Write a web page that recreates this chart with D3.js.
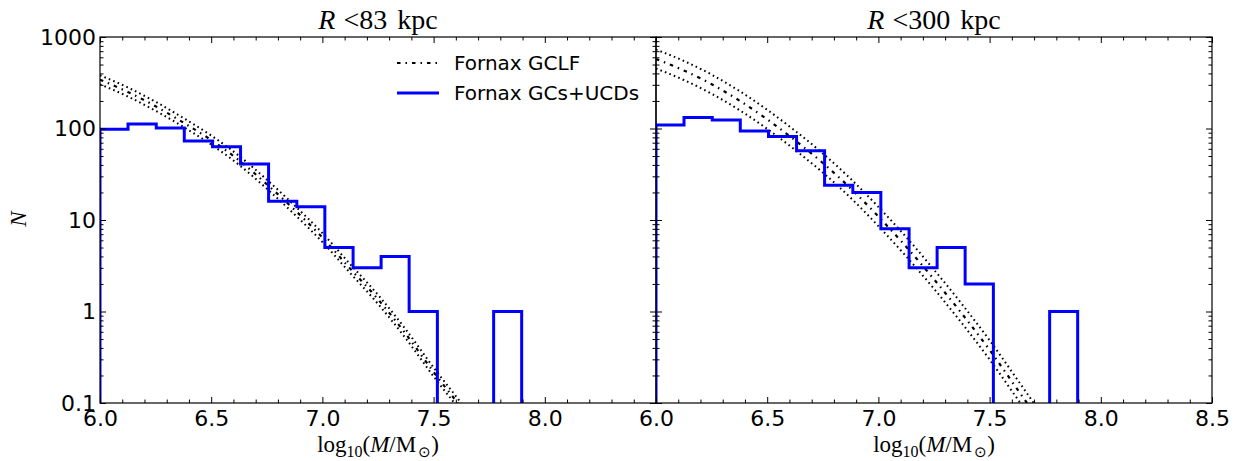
<!DOCTYPE html>
<html>
<head>
<meta charset="utf-8">
<script src="https://cdn.jsdelivr.net/npm/d3@7"></script>
<style>
  html, body { margin: 0; padding: 0; background: #fff; }
  svg { display: block; }
  .tick text { font-family: "DejaVu Sans", sans-serif; font-size: 22px; fill: #000; }
  .tick line { stroke: #000; stroke-width: 1; }
</style>
</head>
<body>
<div id="chart"></div>
<script>
// ---------------- data ----------------
const binEdges = [6.000, 6.126, 6.253, 6.379, 6.506, 6.632, 6.758, 6.885, 7.011, 7.138, 7.264, 7.390, 7.517, 7.643, 7.770, 7.896];
const countsR83  = [98, 112, 101, 73, 63, 41, 16, 14, 5, 3, 4, 1, 0, 0, 1];
const countsR300 = [109, 132, 124, 94, 82, 57, 24, 20, 8, 3, 5, 2, 0, 0, 1];

const gclfX = [6.0, 6.125, 6.25, 6.375, 6.5, 6.625, 6.75, 6.875, 7.0, 7.125, 7.25, 7.375, 7.5, 7.625, 7.75];
const gclfR83Mid   = [341, 251, 175, 116, 74.8, 44.9, 24.6, 12.9, 6.43, 2.94, 1.36, 0.568, 0.218, 0.088, 0.033];
const gclfR83Hi    = [382, 281, 196, 130, 83.8, 50.3, 27.6, 14.4, 7.2, 3.29, 1.52, 0.636, 0.244, 0.099, 0.037];
const gclfR83Lo    = [304, 224, 156, 104, 66.8, 40.1, 22.0, 11.5, 5.74, 2.63, 1.21, 0.507, 0.195, 0.079, 0.029];
const gclfR300Mid  = [575, 431, 305, 202, 126, 74.3, 42.0, 22.2, 10.9, 5.1, 2.25, 0.95, 0.38, 0.141, 0.052];
const gclfR300Hi   = [730, 548, 388, 257, 160, 94.5, 53.4, 28.2, 13.9, 6.5, 2.86, 1.21, 0.484, 0.180, 0.066];
const gclfR300Lo   = [452, 339, 240, 159, 99.0, 58.4, 33.0, 17.5, 8.57, 4.0, 1.77, 0.747, 0.299, 0.111, 0.041];

const panelTitles = [["R", "<83", "kpc"], ["R", "<300", "kpc"]];
const xMajorTicks = [6.0, 6.5, 7.0, 7.5, 8.0, 8.5];
const yMajorTicks = [0.1, 1, 10, 100, 1000];
const yTickLabels = ["0.1", "1", "10", "100", "1000"];
const legendLabels = ["Fornax GCLF", "Fornax GCs+UCDs"];

// ---------------- layout ----------------
const W = 1241, H = 461;
const yTop = 37, yBottom = 403;
const panels = [
  { x0: 100, x1: 656, counts: countsR83, mid: gclfR83Mid, hi: gclfR83Hi, lo: gclfR83Lo, title: panelTitles[0], xLabels: ["6.0","6.5","7.0","7.5","8.0",""], yLabels: true },
  { x0: 656, x1: 1212, counts: countsR300, mid: gclfR300Mid, hi: gclfR300Hi, lo: gclfR300Lo, title: panelTitles[1], xLabels: ["6.0","6.5","7.0","7.5","8.0","8.5"], yLabels: false }
];

const svg = d3.select("#chart").append("svg").attr("width", W).attr("height", H);
const y = d3.scaleLog().domain([0.1, 1000]).range([yBottom, yTop]);

const xMinor = d3.range(60, 86).map(d => d / 10).filter(d => Math.abs(d * 2 - Math.round(d * 2)) > 1e-6);
const yMinor = [];
[0.1, 1, 10, 100].forEach(dec => { for (let k = 2; k <= 9; k++) yMinor.push(dec * k); });

panels.forEach((p, i) => {
  const x = d3.scaleLinear().domain([6, 8.5]).range([p.x0, p.x1]);
  const g = svg.append("g");
  const clipId = "clip" + i;
  svg.append("clipPath").attr("id", clipId).append("rect")
    .attr("x", p.x0).attr("y", yTop).attr("width", p.x1 - p.x0).attr("height", yBottom - yTop);
  const plot = g.append("g").attr("clip-path", `url(#${clipId})`);

  // GCLF curves
  const curveLine = d3.line().x(d => x(d[0])).y(d => y(d[1])).curve(d3.curveMonotoneX);
  [p.hi, p.lo].forEach(arr => {
    plot.append("path").datum(gclfX.map((v, k) => [v, arr[k]]))
      .attr("d", curveLine).attr("fill", "none").attr("stroke", "#000")
      .attr("stroke-width", 2).attr("stroke-dasharray", "1.6,3.2");
  });
  plot.append("path").datum(gclfX.map((v, k) => [v, p.mid[k]]))
    .attr("d", curveLine).attr("fill", "none").attr("stroke", "#000")
    .attr("stroke-width", 2.2).attr("stroke-dasharray", "3.5,5,1.5,5");

  // step histogram
  const floor = 1e-4;
  const pts = [[binEdges[0], floor]];
  p.counts.forEach((c, k) => {
    const v = c > 0 ? c : floor;
    pts.push([binEdges[k], v]);
    pts.push([binEdges[k + 1], v]);
  });
  pts.push([binEdges[binEdges.length - 1], floor]);
  plot.append("path").datum(pts)
    .attr("d", d3.line().x(d => x(d[0])).y(d => y(d[1])))
    .attr("fill", "none").attr("stroke", "#0000ff").attr("stroke-width", 3)
    .attr("stroke-linejoin", "miter");

  // axes: bottom
  g.append("g").attr("transform", `translate(0,${yBottom})`)
    .call(d3.axisBottom(x).tickValues(xMajorTicks).tickSize(-6).tickPadding(7)
      .tickFormat((d, k) => p.xLabels[k]));
  g.append("g").attr("transform", `translate(0,${yBottom})`)
    .call(d3.axisBottom(x).tickValues(xMinor).tickSize(-3.5).tickFormat(""));
  // top
  g.append("g").attr("transform", `translate(0,${yTop})`)
    .call(d3.axisTop(x).tickValues(xMajorTicks).tickSize(-6).tickFormat(""));
  g.append("g").attr("transform", `translate(0,${yTop})`)
    .call(d3.axisTop(x).tickValues(xMinor).tickSize(-3.5).tickFormat(""));
  // left
  g.append("g").attr("transform", `translate(${p.x0},0)`)
    .call(d3.axisLeft(y).tickValues(yMajorTicks).tickSize(-6).tickPadding(4)
      .tickFormat((d, k) => p.yLabels ? yTickLabels[k] : ""));
  g.append("g").attr("transform", `translate(${p.x0},0)`)
    .call(d3.axisLeft(y).tickValues(yMinor).tickSize(-3.5).tickFormat(""));
  // right
  g.append("g").attr("transform", `translate(${p.x1},0)`)
    .call(d3.axisRight(y).tickValues(yMajorTicks).tickSize(-6).tickFormat(""));
  g.append("g").attr("transform", `translate(${p.x1},0)`)
    .call(d3.axisRight(y).tickValues(yMinor).tickSize(-3.5).tickFormat(""));
  g.selectAll(".domain").remove();

  // frame
  g.append("rect").attr("x", p.x0).attr("y", yTop).attr("width", p.x1 - p.x0).attr("height", yBottom - yTop)
    .attr("fill", "none").attr("stroke", "#000").attr("stroke-width", 1.2);

  // title
  const cx = (p.x0 + p.x1) / 2;
  const t = g.append("text").attr("x", cx).attr("y", 29).attr("text-anchor", "middle")
    .attr("font-family", "Liberation Serif, serif").attr("font-size", 28).attr("fill", "#000");
  t.append("tspan").attr("font-style", "italic").text(p.title[0]);
  t.append("tspan").attr("dx", 8).text(p.title[1]);
  t.append("tspan").attr("dx", 10).text(p.title[2]);

  // x label
  const xl = g.append("text").attr("x", cx).attr("y", 452).attr("text-anchor", "middle")
    .attr("font-family", "Liberation Serif, serif").attr("font-size", 23).attr("fill", "#000");
  xl.append("tspan").text("log");
  xl.append("tspan").attr("font-size", 16).attr("dy", 5).text("10");
  xl.append("tspan").attr("dy", -5).text("(");
  xl.append("tspan").attr("font-style", "italic").text("M");
  xl.append("tspan").text("/M");
  xl.append("tspan").attr("font-size", 15).attr("dy", 5).attr("dx", 2).text("⊙");
  xl.append("tspan").attr("dy", -5).text(")");
});

// y label
svg.append("text").attr("transform", "translate(26,219) rotate(-90)")
  .attr("text-anchor", "middle").attr("font-family", "Liberation Serif, serif")
  .attr("font-style", "italic").attr("font-size", 23).attr("fill", "#000").text("N");

// legend
const lg = svg.append("g");
lg.append("line").attr("x1", 397).attr("x2", 439).attr("y1", 63).attr("y2", 63)
  .attr("stroke", "#000").attr("stroke-width", 2.2).attr("stroke-dasharray", "3.5,5,1.5,5");
lg.append("line").attr("x1", 397).attr("x2", 439).attr("y1", 93).attr("y2", 93)
  .attr("stroke", "#0000ff").attr("stroke-width", 3);
legendLabels.forEach((s, k) => {
  lg.append("text").attr("x", 454).attr("y", 70 + k * 30)
    .attr("font-family", "DejaVu Sans, sans-serif").attr("font-size", 20).attr("fill", "#000").text(s);
});
</script>
</body>
</html>
